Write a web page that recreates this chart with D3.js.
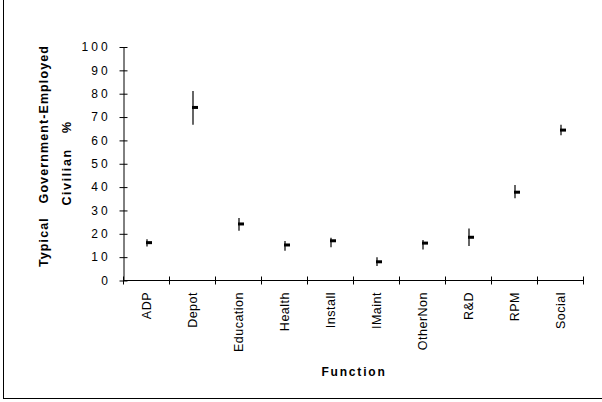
<!DOCTYPE html>
<html>
<head>
<meta charset="utf-8">
<script src="https://cdn.jsdelivr.net/npm/d3@7"></script>
<style>
  html, body { margin: 0; padding: 0; background: #fff; }
  svg { display: block; font-family: Arial, "Liberation Sans", sans-serif; }
</style>
</head>
<body>
<svg id="chart" width="602" height="402"></svg>
<script>
// Functions and their low / typical / high civilian share (%)
const functions = ["ADP", "Depot", "Education", "Health", "Install", "IMaint", "OtherNon", "R&D", "RPM", "Social"];
const lowValues   = [14.4, 66.5, 21.1, 12.5, 14.0, 6.0, 13.1, 14.6, 35.0, 62.0];
const typicalValues = [16.0, 73.9, 24.0, 15.0, 16.8, 7.8, 15.8, 18.3, 37.6, 64.2];
const highValues  = [17.5, 80.9, 26.6, 16.7, 18.1, 9.7, 17.1, 22.1, 40.7, 66.5];
const yTicks = [0, 10, 20, 30, 40, 50, 60, 70, 80, 90, 100];

const rows = functions.map((f, i) => ({ f, low: lowValues[i], mid: typicalValues[i], high: highValues[i] }));

const svg = d3.select("#chart");

// chart-area frame (top and right edges sit just past the canvas)
svg.append("rect")
  .attr("x", 3.5).attr("y", -1)
  .attr("width", 601).attr("height", 399.5)
  .attr("fill", "none").attr("stroke", "#000").attr("stroke-width", 1);

const plot = { left: 123, right: 583, top: 46.5, bottom: 280 };

const x = d3.scaleBand().domain(functions).range([plot.left, plot.right]);
const y = d3.scaleLinear().domain([0, 100]).range([plot.bottom, plot.top]);

// y axis
const yAxis = d3.axisLeft(y).tickValues(yTicks).tickSizeInner(4).tickSizeOuter(0);
const gy = svg.append("g").attr("transform", `translate(${plot.left + 0.5},0.5)`).call(yAxis);
gy.select(".domain").attr("stroke", "#000");
gy.selectAll(".tick line").attr("x2", 4).attr("x1", -4).attr("stroke", "#000");
gy.selectAll(".tick text")
  .attr("x", -12.5)
  .attr("font-size", 12).attr("fill", "#000")
  .style("letter-spacing", "3.2px");

// x axis: ticks on band edges crossing the axis
const gx = svg.append("g").attr("transform", `translate(0,${plot.bottom + 0.5})`);
gx.append("line")
  .attr("x1", plot.left).attr("x2", plot.right)
  .attr("stroke", "#000");
const edges = functions.map(f => x(f)).concat([plot.right]);
gx.selectAll("line.edge").data(edges).join("line")
  .attr("class", "edge")
  .attr("x1", d => Math.round(d) + 0.5).attr("x2", d => Math.round(d) + 0.5)
  .attr("y1", -4).attr("y2", 4)
  .attr("stroke", "#000");
gx.selectAll("text.cat").data(functions).join("text")
  .attr("class", "cat")
  .attr("transform", d => `translate(${x(d) + x.bandwidth() / 2 + 4.5},11.5) rotate(-90)`)
  .attr("text-anchor", "end")
  .attr("font-size", 12.5)
  .style("letter-spacing", "0.5px")
  .text(d => d);

// high-low bars with a typical-value tick
const marks = svg.append("g");
marks.selectAll("line.range").data(rows).join("line")
  .attr("class", "range")
  .attr("x1", d => x(d.f) + x.bandwidth() / 2 + 1)
  .attr("x2", d => x(d.f) + x.bandwidth() / 2 + 1)
  .attr("y1", d => y(d.low)).attr("y2", d => y(d.high))
  .attr("stroke", "#555").attr("stroke-width", 1.8);
marks.selectAll("rect.mid").data(rows).join("rect")
  .attr("class", "mid")
  .attr("x", d => x(d.f) + x.bandwidth() / 2)
  .attr("y", d => y(d.mid) - 1.5)
  .attr("width", 6).attr("height", 3)
  .attr("fill", "#000");

// axis titles
svg.append("text")
  .attr("x", 354).attr("y", 376)
  .attr("text-anchor", "middle")
  .attr("font-size", 12).attr("font-weight", "bold")
  .style("letter-spacing", "1.8px")
  .text("Function");

svg.append("text")
  .attr("transform", "translate(48,156) rotate(-90)")
  .attr("text-anchor", "middle")
  .attr("font-size", 12.5).attr("font-weight", "bold")
  .attr("xml:space", "preserve")
  .style("white-space", "pre")
  .style("letter-spacing", "1.1px")
  .text("Typical   Government-Employed");

svg.append("text")
  .attr("transform", "translate(71,163) rotate(-90)")
  .attr("text-anchor", "middle")
  .attr("font-size", 12.5).attr("font-weight", "bold")
  .attr("xml:space", "preserve")
  .style("white-space", "pre")
  .style("letter-spacing", "1.6px")
  .text("Civilian   %");
</script>
</body>
</html>
